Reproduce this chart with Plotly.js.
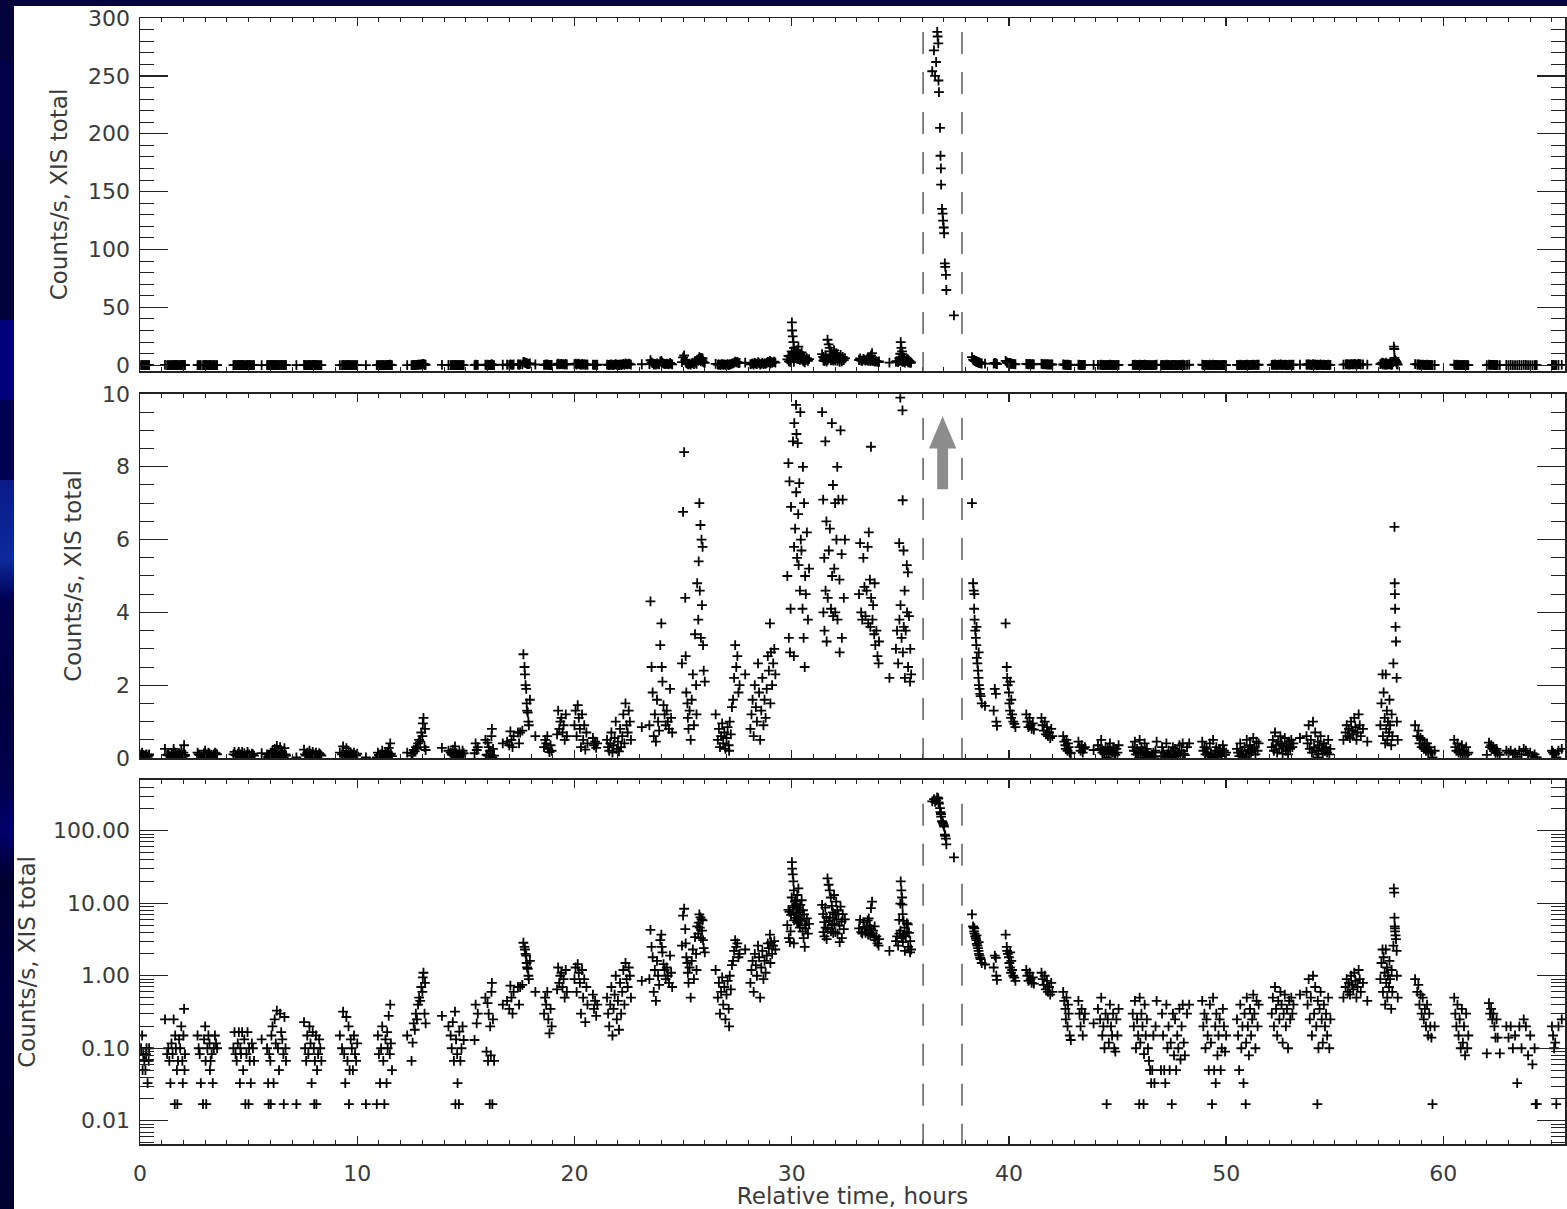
<!DOCTYPE html>
<html>
<head>
<meta charset="utf-8">
<script src="https://cdn.plot.ly/plotly-3.0.1.min.js"></script>
<style>
html,body{margin:0;padding:0;width:1567px;height:1209px;overflow:hidden;
background:linear-gradient(to bottom,#04043a 0px,#04043a 60px,#000048 60px,#000048 160px,#02023a 160px,#02023a 320px,#00007a 320px,#00007a 400px,#000050 400px,#000050 480px,#0a1a88 480px,#0d2a9a 560px,#000050 600px,#000040 700px,#00004a 780px,#00006a 830px,#000030 880px,#000040 1000px,#000030 1209px);}
#chart{position:absolute;left:14px;top:6px;width:1553px;height:1203px;background:#fff;}
</style>
</head>
<body>
<div id="chart"></div>
<script>
// ---- Data: [relative time (hours), XIS total count rate (counts/s)] ----
const quietEarly = [
[0.05,0.1],[0.1,0.15],[0.12,0.05],[0.15,0.083],[0.2,0.067],[0.25,0.05],[0.28,0.083],[0.3,0.1],[0.35,0.033],[0.4,0.067],[0.42,0.1],
[1.15,0.25],[1.25,0.083],[1.3,0.1],[1.35,0.067],[1.4,0.033],[1.45,0.117],[1.5,0.083],[1.55,0.25],[1.6,0.017],[1.62,0.15],[1.65,0.1],[1.7,0.05],[1.72,0.017],[1.75,0.067],[1.8,0.133],[1.85,0.1],[1.9,0.2],[1.95,0.067],[1.97,0.033],[2.0,0.15],[2.03,0.35],[2.05,0.05],[2.07,0.083],
[2.65,0.15],[2.7,0.1],[2.75,0.083],[2.8,0.033],[2.9,0.017],[2.95,0.133],[3.0,0.2],[3.02,0.067],[3.05,0.017],[3.1,0.1],[3.15,0.15],[3.2,0.117],[3.22,0.05],[3.25,0.067],[3.3,0.083],[3.35,0.033],[3.4,0.1],[3.45,0.15],[3.5,0.117],[3.55,0.1],
[4.3,0.1],[4.35,0.167],[4.4,0.083],[4.45,0.067],[4.5,0.117],[4.55,0.167],[4.6,0.033],[4.62,0.1],[4.65,0.083],[4.7,0.167],[4.75,0.05],[4.8,0.133],[4.85,0.017],[4.9,0.083],[4.95,0.167],[5.0,0.017],[5.02,0.1],[5.05,0.067],[5.1,0.033],[5.15,0.117],[5.2,0.1],[5.25,0.067],
[5.6,0.133],[5.85,0.1],[5.9,0.033],[5.92,0.017],[5.95,0.083],[6.0,0.067],[6.02,0.017],[6.05,0.15],[6.1,0.2],[6.15,0.033],[6.2,0.25],[6.25,0.117],[6.3,0.33],[6.35,0.1],[6.4,0.05],[6.45,0.3],[6.5,0.167],[6.55,0.133],[6.6,0.083],[6.62,0.017],[6.65,0.27],[6.7,0.1],[6.72,0.067],[7.2,0.017],
[7.55,0.23],[7.6,0.1],[7.65,0.067],[7.7,0.15],[7.75,0.083],[7.8,0.2],[7.85,0.117],[7.9,0.033],[7.95,0.167],[8.0,0.1],[8.02,0.017],[8.05,0.067],[8.1,0.15],[8.12,0.017],[8.15,0.05],[8.2,0.083],[8.25,0.133],[8.3,0.1],[8.35,0.067],
[9.2,0.15],[9.3,0.1],[9.35,0.32],[9.4,0.083],[9.45,0.033],[9.5,0.27],[9.55,0.067],[9.6,0.2],[9.62,0.017],[9.65,0.05],[9.7,0.133],[9.75,0.1],[9.8,0.05],[9.85,0.15],[9.9,0.083],[9.95,0.067],[10.0,0.117],[10.4,0.017],[10.9,0.017],
[10.95,0.15],[11.0,0.083],[11.05,0.033],[11.1,0.1],[11.15,0.2],[11.2,0.067],[11.25,0.017],[11.3,0.133],[11.35,0.033],[11.38,0.167],[11.4,0.1],[11.45,0.28],[11.5,0.083],[11.52,0.4],[11.55,0.117],[11.6,0.05]
];
const riseEarly = [
[12.3,0.15],[12.5,0.067],[12.55,0.12],[12.6,0.22],[12.65,0.18],[12.7,0.3],[12.75,0.25],[12.8,0.4],[12.85,0.5],[12.9,0.45],[12.95,0.7],[13.0,0.6],[13.02,0.95],[13.05,1.1],[13.1,0.3],[13.12,0.8],[13.15,0.22],
[13.9,0.28],[14.2,0.2],[14.3,0.15],[14.35,0.1],[14.4,0.23],[14.45,0.067],[14.5,0.32],[14.52,0.017],[14.55,0.133],[14.6,0.083],[14.62,0.033],[14.68,0.017],[14.7,0.17],[14.75,0.067],[14.8,0.1],[14.85,0.2],[14.9,0.13],
[15.4,0.13],[15.45,0.4],[15.5,0.22],[15.55,0.3],[15.9,0.5],[15.95,0.09],[16.0,0.42],[16.02,0.067],[16.05,0.3],[16.1,0.017],[16.12,0.2],[16.15,0.08],[16.18,0.6],[16.2,0.8],[16.22,0.017],[16.25,0.25],[16.3,0.067],[16.7,0.4],
[16.9,0.45],[17.0,0.35],[17.05,0.73],[17.1,0.5],[17.15,0.3],[17.2,0.6],[17.4,0.7],[17.45,0.4],[17.5,0.7],[17.6,0.75],[17.65,2.85],[17.7,2.5],[17.72,2.3],[17.75,2.0],[17.78,1.9],[17.8,1.5],[17.82,1.3],[17.85,1.25],[17.88,1.0],[17.9,0.9],[17.95,1.6],[18.2,0.6],
[18.6,0.3],[18.65,0.5],[18.7,0.4],[18.75,0.6],[18.8,0.25],[18.85,0.16],[18.9,0.35],[18.95,0.2],[19.2,0.65],[19.25,1.3],[19.3,0.8],[19.35,1.0],[19.4,1.1],[19.45,0.7],[19.5,0.9],[19.55,0.5],[19.6,1.2],[19.65,0.6],
[20.0,0.9],[20.05,1.3],[20.1,0.6],[20.15,1.45],[20.2,1.1],[20.25,0.8],[20.3,0.3],[20.35,1.2],[20.4,0.5],[20.45,0.9],[20.5,0.23],[20.55,0.7],[20.6,0.4],[20.85,0.55],[20.9,0.35],[20.95,0.45],[21.0,0.28],[21.05,0.4],
[21.5,0.5],[21.55,0.3],[21.6,0.2],[21.65,0.4],[21.7,0.7],[21.75,0.15],[21.8,0.35],[21.85,0.55],[21.9,1.0],[21.95,0.25],[22.0,0.45],[22.05,0.18],[22.1,0.8],[22.15,0.3],[22.2,0.6],[22.25,1.2],[22.3,0.4],[22.35,1.5],[22.4,0.9],[22.45,0.7],[22.5,1.3],[22.55,1.0],[22.6,0.5],[23.1,0.85]
];
const riseLate = [
[23.45,0.9],[23.5,4.3],[23.55,2.5],[23.6,1.8],[23.65,0.6],[23.7,1.2],[23.75,0.45],[23.8,1.6],[23.85,1.0],[23.9,0.75],[23.95,3.1],[24.0,3.7],[24.02,2.5],[24.05,2.1],[24.1,1.45],[24.15,1.2],[24.2,0.9],[24.25,1.3],[24.3,1.0],[24.35,0.8],[24.4,1.9],[24.45,1.1],[24.5,0.7],
[24.95,2.6],[25.0,6.76],[25.05,8.4],[25.1,4.4],[25.12,2.8],[25.15,1.8],[25.2,1.5],[25.22,1.1],[25.25,0.8],[25.3,1.3],[25.35,0.5],[25.4,1.6],[25.45,2.3],[25.5,0.9],[25.55,3.4],[25.6,2.0],[25.62,1.2],[25.65,4.8],[25.7,3.8],[25.72,5.4],[25.75,7.0],[25.77,4.6],[25.8,6.4],[25.82,3.3],[25.85,6.0],[25.87,4.2],[25.9,5.8],[25.92,3.1],[25.95,2.4],[26.0,2.1],
[26.5,1.2],[26.6,0.5],[26.65,0.8],[26.7,0.3],[26.75,0.6],[26.8,0.95],[26.85,0.4],[26.9,0.7],[26.95,0.25],[27.0,0.55],[27.05,0.85],[27.1,0.35],[27.12,0.2],[27.15,1.0],[27.2,0.65],[27.25,1.4],[27.3,1.6],[27.35,2.2],[27.4,3.1],[27.45,2.5],[27.5,2.8],[27.55,1.8],[27.6,2.0],[27.86,2.3],
[28.1,0.8],[28.15,1.2],[28.2,1.6],[28.25,0.6],[28.3,2.0],[28.35,1.4],[28.4,1.0],[28.45,2.6],[28.5,1.8],[28.55,0.5],[28.6,1.3],[28.65,2.2],[28.7,0.9],[28.75,1.6],[28.8,1.1],[28.85,1.9],[28.9,2.8],[28.95,2.4],[29.0,3.7],[29.02,1.5],[29.05,2.9],[29.1,2.0],[29.15,2.6],[29.2,3.0],[29.25,2.3]
];
const activePreFlare = [
[29.8,5.0],[29.85,8.1],[29.87,3.3],[29.9,7.6],[29.92,2.9],[29.95,4.1],[29.97,6.9],[30.0,12],[30.01,37],[30.02,30],[30.05,25],[30.06,8.7],[30.08,20],[30.1,15],[30.11,5.8],[30.12,9.2],[30.15,10.5],[30.16,6.3],[30.18,11],[30.2,9.7],[30.21,7.3],[30.22,8.9],[30.25,5.5],[30.26,13],[30.28,8.65],[30.3,6.7],[30.31,16],[30.32,5.3],[30.35,7.55],[30.38,4.6],[30.4,9.5],[30.42,6.0],[30.45,5.7],[30.46,11],[30.5,4.1],[30.52,8.0],[30.55,3.3],[30.57,7.0],[30.6,2.5],[30.62,5.0],[30.65,4.5],[30.7,6.2],[30.75,3.8],[30.8,5.2],[30.1,2.8],
[31.4,9.5],[31.45,7.1],[31.46,4.0],[31.5,5.5],[31.51,3.5],[31.55,8.7],[31.56,4.6],[31.6,6.5],[31.61,3.2],[31.65,22],[31.66,4.4],[31.7,18],[31.71,5.7],[31.75,15],[31.76,6.3],[31.8,12],[31.81,4.1],[31.85,9.2],[31.86,5.0],[31.9,7.5],[31.91,3.9],[31.95,13],[31.96,5.2],[32.0,7.0],[32.01,4.0],[32.05,10.5],[32.06,6.0],[32.1,8.0],[32.11,3.8],[32.15,7.1],[32.2,4.9],[32.21,2.9],[32.25,9.0],[32.3,5.6],[32.31,3.3],[32.35,7.1],[32.4,4.4],[32.45,6.0],
[33.1,4.5],[33.15,5.9],[33.2,4.0],[33.25,3.8],[33.3,5.5],[33.35,4.7],[33.4,3.9],[33.45,4.6],[33.5,5.8],[33.52,3.7],[33.55,6.2],[33.6,4.9],[33.62,3.6],[33.65,8.55],[33.66,4.4],[33.7,10.5],[33.72,3.8],[33.75,4.2],[33.8,3.4],[33.82,4.8],[33.85,3.1],[33.9,3.5],[33.95,2.8],[34.0,2.6],[34.02,3.2],[34.5,2.2],
[34.8,3.0],[34.85,3.5],[34.9,2.6],[34.95,5.9],[34.96,3.8],[35.0,9.9],[35.01,4.2],[35.02,20],[35.05,15],[35.06,3.3],[35.08,12],[35.1,9.55],[35.11,7.08],[35.12,2.9],[35.15,5.7],[35.16,3.6],[35.2,4.6],[35.21,2.2],[35.25,3.5],[35.3,5.3],[35.31,4.0],[35.35,5.1],[35.36,2.5],[35.4,3.9],[35.45,2.1],[35.46,3.0],[35.5,2.3]
];
const flarePeak = [
[36.47,254],[36.55,272],[36.6,250],[36.65,262],[36.7,288],[36.72,284],[36.75,278],[36.76,246],[36.78,236],[36.83,205],[36.85,181],[36.87,170],[36.88,156],[36.92,135],[36.95,131],[36.97,125],[37.0,119],[37.02,114],[37.05,88],[37.07,85],[37.1,78],[37.12,65],[37.47,43]
];
const decay = [
[38.3,7.0],[38.35,4.8],[38.38,4.6],[38.4,4.1],[38.41,4.5],[38.42,3.8],[38.45,3.5],[38.48,3.3],[38.5,3.1],[38.51,3.6],[38.52,2.75],[38.55,2.6],[38.58,2.4],[38.6,2.2],[38.61,2.9],[38.62,2.0],[38.65,1.9],[38.68,1.76],[38.7,1.7],[38.75,1.5],[38.9,1.43],
[39.3,1.3],[39.35,1.9],[39.4,1.76],[39.42,1.0],[39.45,0.88],
[39.85,3.7],[39.9,2.5],[39.92,2.2],[39.95,2.0],[40.0,1.8],[40.02,1.5],[40.05,1.3],[40.06,2.1],[40.1,1.1],[40.11,1.6],[40.15,1.2],[40.2,1.0],[40.25,0.94],[40.3,0.85],
[40.8,1.2],[40.85,1.0],[40.9,0.85],[40.95,1.1],[41.0,0.9],[41.05,0.8],[41.1,0.95],[41.15,0.78],
[41.5,1.1],[41.55,0.9],[41.6,0.75],[41.65,1.0],[41.7,0.65],[41.75,0.85],[41.8,0.6],[41.85,0.7],[41.9,0.55],[41.95,0.8],[42.0,0.6],
[42.5,0.6],[42.55,0.45],[42.6,0.35],[42.62,0.25],[42.65,0.5],[42.7,0.2],[42.72,0.4],[42.75,0.3],[42.8,0.15],[42.85,0.13],
[43.2,0.45],[43.25,0.3],[43.3,0.2],[43.35,0.35],[43.4,0.15],[43.45,0.25],[43.5,0.3],[43.9,0.22]
];
const quietLate = [
[44.1,0.35],[44.2,0.25],[44.25,0.5],[44.3,0.15],[44.35,0.2],[44.4,0.1],[44.45,0.3],[44.5,0.017],[44.55,0.25],[44.6,0.12],[44.65,0.4],[44.7,0.2],[44.75,0.15],[44.8,0.3],[44.85,0.1],[44.9,0.09],[44.95,0.25],[45.0,0.15],[45.05,0.35],
[45.7,0.3],[45.75,0.2],[45.8,0.45],[45.85,0.1],[45.9,0.25],[45.95,0.15],[46.0,0.017],[46.02,0.5],[46.05,0.12],[46.1,0.3],[46.15,0.2],[46.2,0.017],[46.22,0.083],[46.25,0.4],[46.3,0.15],[46.35,0.25],[46.4,0.1],[46.45,0.067],[46.5,0.05],[46.55,0.033],[46.6,0.05],[46.65,0.15],[46.7,0.033],[46.75,0.2],[46.8,0.45],
[47.0,0.05],[47.05,0.3],[47.1,0.15],[47.15,0.05],[47.2,0.033],[47.25,0.4],[47.3,0.1],[47.35,0.2],[47.4,0.05],[47.45,0.12],[47.5,0.017],[47.55,0.3],[47.6,0.08],[47.65,0.25],[47.7,0.05],[47.75,0.15],[47.8,0.1],[47.85,0.35],[47.9,0.07],[47.95,0.2],[48.0,0.4],[48.05,0.12],[48.1,0.08],[48.2,0.3],[48.3,0.4],
[48.9,0.45],[48.95,0.2],[49.0,0.3],[49.05,0.1],[49.1,0.25],[49.15,0.15],[49.2,0.05],[49.25,0.4],[49.3,0.12],[49.35,0.017],[49.4,0.5],[49.45,0.05],[49.5,0.2],[49.52,0.033],[49.55,0.3],[49.6,0.08],[49.65,0.15],[49.7,0.25],[49.75,0.05],[49.8,0.1],[49.85,0.35],[49.9,0.2],[49.95,0.09],[50.0,0.15],
[50.5,0.25],[50.55,0.15],[50.6,0.05],[50.65,0.4],[50.7,0.1],[50.75,0.2],[50.8,0.033],[50.85,0.3],[50.9,0.017],[50.92,0.12],[50.95,0.5],[51.0,0.2],[51.05,0.08],[51.1,0.35],[51.15,0.15],[51.2,0.25],[51.25,0.55],[51.3,0.3],[51.35,0.1],[51.4,0.45],[51.45,0.2],[51.5,0.4],
[52.1,0.3],[52.15,0.5],[52.2,0.2],[52.25,0.7],[52.3,0.35],[52.35,0.15],[52.4,0.45],[52.45,0.25],[52.5,0.6],[52.55,0.4],[52.6,0.12],[52.65,0.3],[52.7,0.55],[52.75,0.2],[52.8,0.35],[52.85,0.1],[52.9,0.45],[52.95,0.25],[53.0,0.5],[53.05,0.3],[53.1,0.4],[53.4,0.55],
[53.7,0.6],[53.75,0.4],[53.8,0.9],[53.85,0.25],[53.9,0.5],[53.95,0.15],[54.0,1.0],[54.05,0.3],[54.1,0.7],[54.15,0.2],[54.2,0.017],[54.22,0.45],[54.25,0.1],[54.3,0.35],[54.35,0.6],[54.4,0.25],[54.45,0.12],[54.5,0.4],[54.55,0.2],[54.6,0.3],[54.65,0.15],[54.7,0.5],[54.75,0.1],[54.8,0.25],
[55.4,0.5],[55.5,0.7],[55.55,0.9],[55.6,0.6],[55.65,0.8],[55.7,0.55],[55.75,1.0],[55.8,0.75],[55.85,0.65],[55.9,1.1],[55.95,0.85],[56.0,0.5],[56.05,0.7],[56.1,1.2],[56.15,0.9],[56.2,0.6],[56.3,0.8],[56.5,0.45],
[57.1,0.9],[57.15,1.5],[57.2,2.3],[57.22,0.6],[57.25,1.8],[57.3,1.1],[57.32,0.4],[57.35,2.3],[57.37,0.8],[57.4,1.3],[57.42,0.5],[57.45,1.0],[57.5,0.7],[57.52,1.6],[57.55,0.9],[57.6,0.35],[57.62,1.2],[57.65,0.6],[57.7,2.6],[57.72,16],[57.74,14],[57.75,6.35],[57.76,4.8],[57.77,4.5],[57.78,4.1],[57.8,3.6],[57.82,3.2],[57.85,2.2],[57.86,1.0],[57.9,0.5],
[58.7,0.9],[58.8,0.6],[58.85,0.75],[58.9,0.4],[58.95,0.55],[59.0,0.3],[59.05,0.5],[59.1,0.25],[59.15,0.35],[59.2,0.2],[59.25,0.4],[59.3,0.15],[59.35,0.3],[59.4,0.2],[59.45,0.14],[59.5,0.017],[59.6,0.2],
[60.5,0.5],[60.55,0.3],[60.6,0.2],[60.65,0.4],[60.7,0.15],[60.75,0.25],[60.8,0.1],[60.85,0.35],[60.9,0.12],[60.95,0.2],[61.0,0.08],[61.05,0.3],[61.1,0.1],[61.15,0.15],
[62.0,0.085],[62.1,0.42],[62.15,0.3],[62.2,0.35],[62.25,0.25],[62.3,0.3],[62.35,0.2],[62.4,0.14],[62.45,0.25],[62.5,0.14],[62.6,0.085],
[62.9,0.2],[63.0,0.14],[63.1,0.2],[63.2,0.1],[63.3,0.15],[63.4,0.033],[63.5,0.2],[63.6,0.1],[63.7,0.25],[63.8,0.2],[63.9,0.08],[64.0,0.15],[64.1,0.06],[64.2,0.1],[64.25,0.017],[64.3,0.017],
[65.0,0.2],[65.05,0.15],[65.1,0.1],[65.15,0.12],[65.2,0.017],[65.3,0.2],[65.45,0.25]
];

// flare interval marked by dashed lines (hours)
const flareWindow = [36.05, 37.84];
// arrow in middle panel: centre time, tail, head base, tip (counts/s), half widths (hours)
const arrowSpec = {t: 36.95, tail: 7.38, base: 8.5, tip: 9.39, shaftHalf: 0.25, headHalf: 0.63};

// tick values
const linTicksTop = [0, 50, 100, 150, 200, 250, 300];
const linTicksMid = [0, 2, 4, 6, 8, 10];
const logTickVals = [0.01, 0.1, 1, 10, 100];
const logTickText = ['0.01', '0.10', '1.00', '10.00', '100.00'];
const logMinorVals = [0.005,0.006,0.007,0.008,0.009,0.02,0.03,0.04,0.05,0.06,0.07,0.08,0.09,0.2,0.3,0.4,0.5,0.6,0.7,0.8,0.9,2,3,4,5,6,7,8,9,20,30,40,50,60,70,80,90,200,300,400,500];

const allPoints = [].concat(quietEarly, riseEarly, riseLate, activePreFlare, flarePeak, decay, quietLate);
const time = allPoints.map(p => p[0]);
const rate = allPoints.map(p => p[1]);

const marker = {symbol: 'cross-thin', size: 7, color: '#000', line: {color: '#000', width: 1.8}};
const traces = [
  {x: time, y: rate, xaxis: 'x', yaxis: 'y', mode: 'markers', type: 'scatter', marker: marker, hoverinfo: 'x+y'},
  {x: time, y: rate, xaxis: 'x2', yaxis: 'y2', mode: 'markers', type: 'scatter', marker: marker, hoverinfo: 'x+y'},
  {x: time, y: rate, xaxis: 'x3', yaxis: 'y3', mode: 'markers', type: 'scatter', marker: marker, hoverinfo: 'x+y'}
];

const tickFont = {family: 'DejaVu Sans, Verdana, sans-serif', size: 22, color: '#3a3a3a'};
const titleFont = {family: 'DejaVu Sans, Verdana, sans-serif', size: 23, color: '#3a3a3a'};
const lineCol = '#222';
function xAxis(anchor, labels) {
  return {anchor: anchor, range: [0, 65.6], showgrid: false, zeroline: false,
    showline: true, linecolor: lineCol, linewidth: 1.5, mirror: 'ticks',
    ticks: 'inside', ticklen: 8, tickwidth: 1.3, tickcolor: lineCol,
    tickmode: 'linear', tick0: 0, dtick: 10, showticklabels: labels, tickfont: tickFont,
    ticklabelstandoff: 9, ticklabeloverflow: 'allow',
    minor: {ticks: 'inside', ticklen: 4, tickwidth: 1, tickcolor: lineCol, tickmode: 'linear', tick0: 0, dtick: 1}};
}
function yAxis(anchor, domain) {
  return {anchor: anchor, domain: domain, showgrid: false, zeroline: false,
    showline: true, linecolor: lineCol, linewidth: 1.5, mirror: 'ticks',
    ticks: 'inside', ticklen: 28, tickwidth: 1.3, tickcolor: lineCol, tickfont: tickFont,
    ticklabelstandoff: 4, ticklabeloverflow: 'allow',
    title: {text: 'Counts/s, XIS total', font: titleFont, standoff: 14}};
}

const x1 = xAxis('y', false);
const x2 = xAxis('y2', false);
const x3 = xAxis('y3', true);
x3.title = {text: 'Relative time, hours', font: titleFont, standoff: 3};

const y1 = yAxis('x', [0.6865, 1]);
y1.range = [-5, 300]; y1.tickmode = 'array'; y1.tickvals = linTicksTop;
y1.minor = {ticks: 'inside', ticklen: 14, tickwidth: 1, tickcolor: lineCol, tickmode: 'linear', tick0: 0, dtick: 10};

const y2 = yAxis('x2', [0.3428, 0.6661]);
y2.range = [0, 10]; y2.tickmode = 'array'; y2.tickvals = linTicksMid;
y2.minor = {ticks: 'inside', ticklen: 14, tickwidth: 1, tickcolor: lineCol, tickmode: 'linear', tick0: 0, dtick: 0.5};

const y3 = yAxis('x3', [0, 0.3233]);
y3.type = 'log'; y3.range = [-2.32, 2.70]; y3.tickmode = 'array';
y3.tickvals = logTickVals; y3.ticktext = logTickText;
y3.minor = {ticks: 'inside', ticklen: 14, tickwidth: 1, tickcolor: lineCol, tickmode: 'array', tickvals: logMinorVals};

const dashStyle = {color: '#666', width: 1.6, dash: '22px,18px'};
const shapes = [];
const panels = [['x', 'y domain', 0.96], ['x2', 'y2 domain', 0.934], ['x3', 'y3 domain', 0.935]];
panels.forEach(p => {
  flareWindow.forEach(t => {
    shapes.push({type: 'line', xref: p[0], yref: p[1], x0: t, x1: t, y0: p[2], y1: 0, line: dashStyle});
  });
});
const a = arrowSpec;
shapes.push({type: 'path', xref: 'x2', yref: 'y2', fillcolor: '#8c8c8c', line: {width: 0},
  path: 'M' + (a.t - a.shaftHalf) + ',' + a.tail + ' L' + (a.t - a.shaftHalf) + ',' + a.base +
        ' L' + (a.t - a.headHalf) + ',' + a.base + ' L' + a.t + ',' + a.tip +
        ' L' + (a.t + a.headHalf) + ',' + a.base + ' L' + (a.t + a.shaftHalf) + ',' + a.base +
        ' L' + (a.t + a.shaftHalf) + ',' + a.tail + ' Z'});

const layout = {
  width: 1553, height: 1203,
  margin: {l: 126, r: 2, t: 12, b: 65},
  paper_bgcolor: '#ffffff', plot_bgcolor: '#ffffff',
  showlegend: false, font: tickFont,
  xaxis: x1, yaxis: y1, xaxis2: x2, yaxis2: y2, xaxis3: x3, yaxis3: y3,
  shapes: shapes
};

Plotly.newPlot('chart', traces, layout, {displayModeBar: false, staticPlot: true});
</script>
</body>
</html>
